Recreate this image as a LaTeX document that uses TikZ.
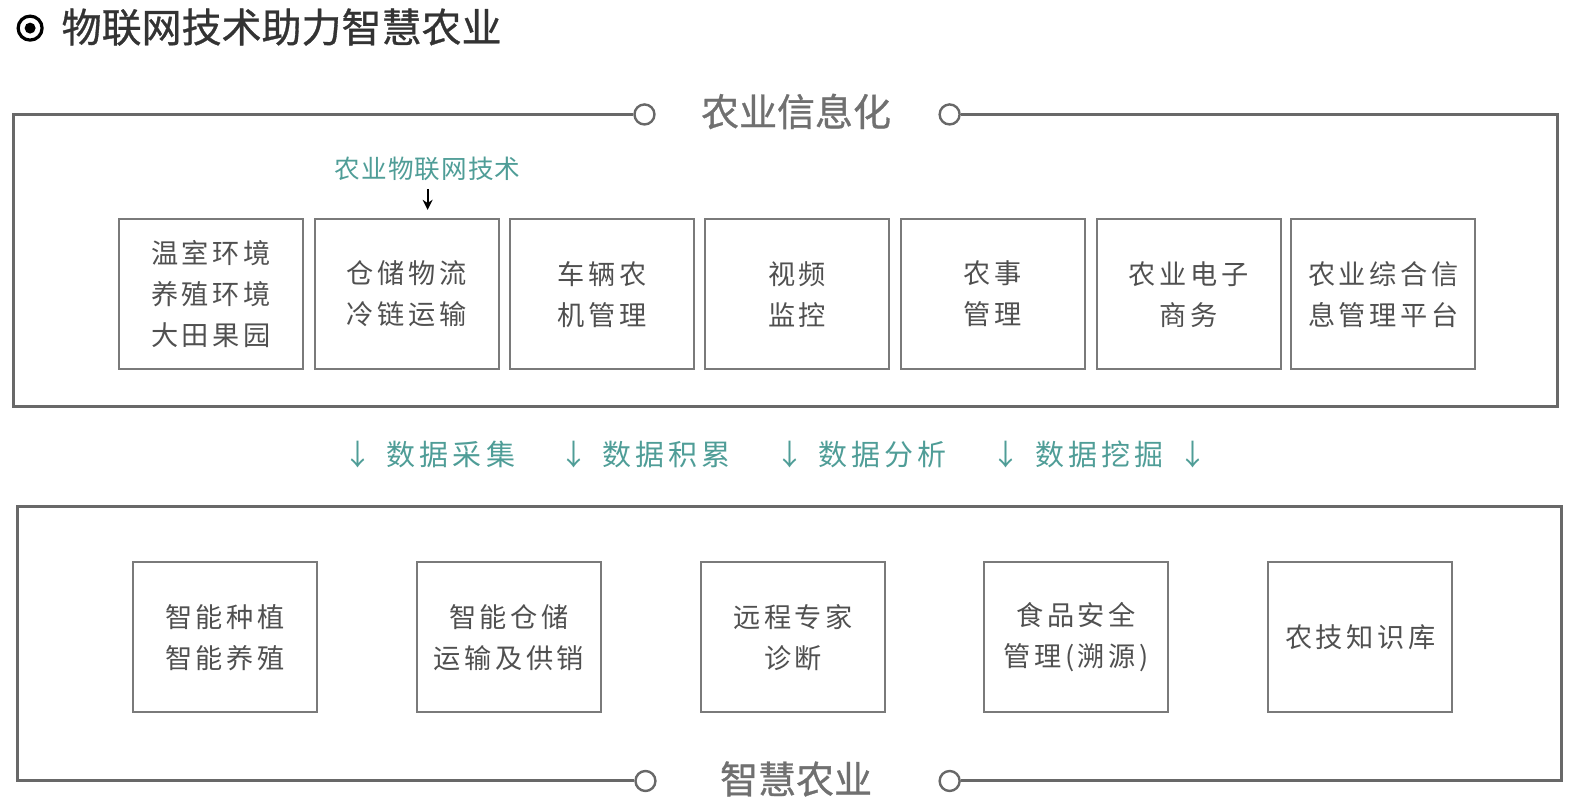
\documentclass[tikz,border=0pt]{standalone}
\usepackage{fontspec}
\setmainfont{Noto Sans CJK SC}
\newfontfamily\cjk{Noto Sans CJK SC}
\newfontfamily\cjkhead{Noto Sans CJK SC}[FakeBold=0.8]
\newfontfamily\cjkwide{Noto Sans CJK SC}[LetterSpace=13]
\newfontfamily\cjkdata{Noto Sans CJK SC}[LetterSpace=14]
\newfontfamily\cjklabel{Noto Sans CJK SC}[LetterSpace=4]
\usetikzlibrary{arrows.meta}
\definecolor{framegray}{HTML}{686868}
\definecolor{boxgray}{HTML}{7A7A7A}
\definecolor{textgray}{HTML}{505050}
\definecolor{headgray}{HTML}{707070}
\definecolor{titlegray}{HTML}{333333}
\definecolor{teal}{HTML}{4F9D97}
\tikzset{
  frameline/.style={draw=framegray, line width=1.5pt},
  ring/.style={circle, draw=framegray, line width=1.2pt, fill=white, minimum size=10pt, inner sep=0pt},
  itembox/.style={draw=boxgray, line width=1pt, minimum width=92pt, minimum height=75pt, inner sep=0pt,
    align=center, text=textgray, font=\cjkwide\fontsize{13.6}{20.5}\selectfont},
  heading/.style={text=headgray, font=\cjkhead\fontsize{19}{22}\selectfont, inner sep=0pt},
  datalabel/.style={text=teal, font=\cjkdata\fontsize{14.5}{17}\selectfont, inner sep=0pt},
  dataarrow/.style={text=teal, font=\cjk\fontsize{14.5}{17}\selectfont, inner sep=0pt},
}
\begin{document}
\begin{tikzpicture}[x=0.502pt,y=-0.502pt]
\useasboundingbox (0,0) rectangle (1568,793);

% page title
\node[circle, draw=black, line width=1.6pt, minimum size=12pt, inner sep=0pt] (icon) at (30,28) {};
\node[circle, fill=black, minimum size=5.5pt, inner sep=0pt] (icondot) at (icon.center) {};
\node[anchor=west, text=titlegray, font=\cjkhead\fontsize{20}{24}\selectfont, inner sep=0pt] (title) at (61,27) {物联网技术助力智慧农业};

% top frame
\coordinate (tl) at (13,114);
\coordinate (bl) at (13,405);
\coordinate (br) at (1552,405);
\coordinate (tr) at (1552,114);
\node[ring] (c1) at (642,114) {};
\node[ring] (c2) at (946,114) {};
\node[heading] (toptitle) at (793,111) {农业信息化};
\draw[frameline] (c1.west) -- (tl) -- (bl) -- (br) -- (tr) -- (c2.east);

% top boxes
\node[itembox] (b1) at (210,293) {温室环境\\养殖环境\\大田果园};
\node[itembox] (b2) at (405,293) {仓储物流\\冷链运输};
\node[itembox] (b3) at (600,293) {车辆农\\机管理};
\node[itembox] (b4) at (794,293) {视频\\监控};
\node[itembox] (b5) at (989,293) {农事\\管理};
\node[itembox] (b6) at (1184,293) {农业电子\\商务};
\node[itembox] (b7) at (1378,293) {农业综合信\\息管理平台};

% IoT label
\node[text=teal, font=\cjklabel\fontsize{12.8}{14}\selectfont, inner sep=0pt] (iot) at (426,168) {农业物联网技术};
\coordinate (iotend) at (426,209);
\draw[black, line width=1pt, -{Stealth[length=5pt,width=5pt]}] ([yshift=-4pt]iot.south) -- (iotend);

% data row
\node[dataarrow] (a1) at (357,453) {↓};
\node[datalabel, anchor=west] (d1) at (385,453) {数据采集};
\node[dataarrow] (a2) at (572,453) {↓};
\node[datalabel, anchor=west] (d2) at (600,453) {数据积累};
\node[dataarrow] (a3) at (787,453) {↓};
\node[datalabel, anchor=west] (d3) at (815,453) {数据分析};
\node[dataarrow] (a4) at (1002,453) {↓};
\node[datalabel, anchor=west] (d4) at (1031,453) {数据挖掘};
\node[dataarrow] (a5) at (1188,453) {↓};

% bottom frame
\coordinate (btl) at (17,505);
\coordinate (bbl) at (17,778);
\coordinate (bbr) at (1556,778);
\coordinate (btr) at (1556,505);
\node[ring] (c3) at (643,778) {};
\node[ring] (c4) at (946,778) {};
\node[heading] (bottitle) at (793,776) {智慧农业};
\draw[frameline] (c3.west) -- (bbl) -- (btl) -- (btr) -- (bbr) -- (c4.east);

% bottom boxes
\node[itembox] (e1) at (224,635) {智能种植\\智能养殖};
\node[itembox] (e2) at (507,635) {智能仓储\\运输及供销};
\node[itembox] (e3) at (790,635) {远程专家\\诊断};
\node[itembox] (e4) at (1072,635) {食品安全\\管理(溯源)};
\node[itembox] (e5) at (1355,635) {农技知识库};
\end{tikzpicture}
\end{document}
